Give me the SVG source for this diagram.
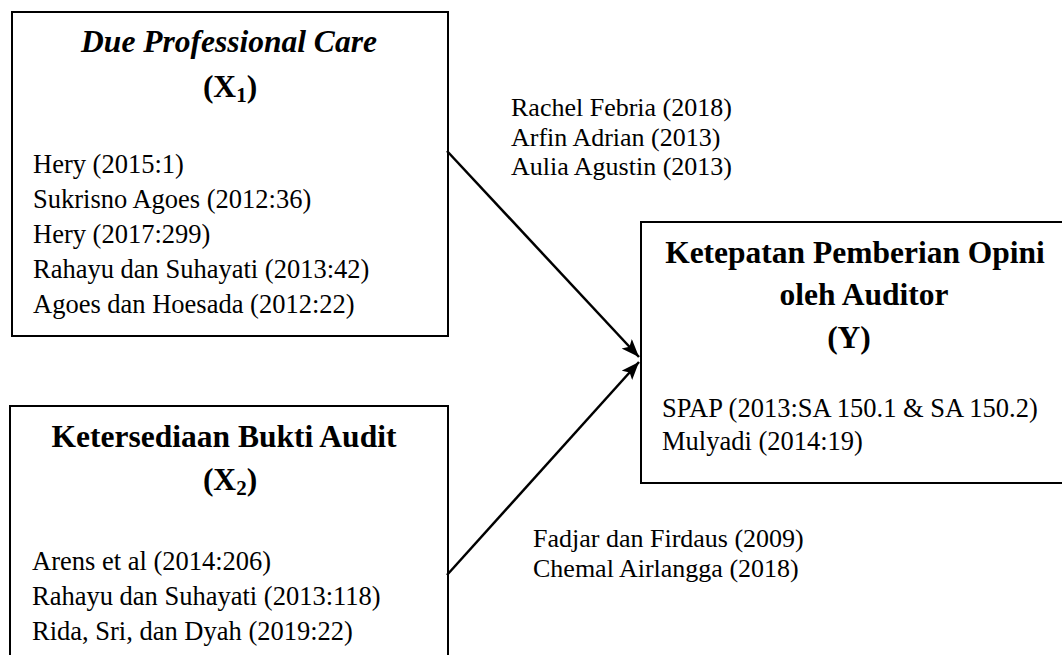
<svg xmlns="http://www.w3.org/2000/svg" width="1062" height="655" viewBox="0 0 1062 655">
<style>
.box{fill:#fff;stroke:#000;stroke-width:2}
.t{font-family:"Liberation Serif","Times New Roman",serif;fill:#000}
.h{font-size:31.5px;font-weight:bold;text-anchor:middle}
.b{font-size:26.5px}
.m{font-size:26px}
.sub{font-size:21px}
.conn{stroke:#000;stroke-width:2.5;fill:none}
</style>
<defs>
<marker id="ah" markerUnits="userSpaceOnUse" markerWidth="20" markerHeight="16" refX="18" refY="7" orient="auto">
<path d="M0,0 L18,7 L0,14 L4,7 Z" fill="#000"/>
</marker>
</defs>
<rect width="1062" height="655" fill="#fff"/>
<g id="node-x1">
<rect class="box" x="12" y="12" width="436" height="324"/>
<text class="t h" x="229" y="52" font-style="italic">Due Professional Care</text>
<text class="t h" x="230" y="97">(X<tspan class="sub" dy="5">1</tspan><tspan dy="-5">)</tspan></text>
<text class="t b" x="33" y="173">Hery (2015:1)</text>
<text class="t b" x="33" y="208">Sukrisno Agoes (2012:36)</text>
<text class="t b" x="33" y="243">Hery (2017:299)</text>
<text class="t b" x="33" y="278">Rahayu dan Suhayati (2013:42)</text>
<text class="t b" x="33" y="313">Agoes dan Hoesada (2012:22)</text>
</g>
<g id="node-x2">
<rect class="box" x="10" y="406" width="438" height="270"/>
<text class="t h" x="224" y="447">Ketersediaan Bukti Audit</text>
<text class="t h" x="230" y="490">(X<tspan class="sub" dy="5">2</tspan><tspan dy="-5">)</tspan></text>
<text class="t b" x="32" y="570">Arens et al (2014:206)</text>
<text class="t b" x="32" y="605">Rahayu dan Suhayati (2013:118)</text>
<text class="t b" x="32" y="640">Rida, Sri, dan Dyah (2019:22)</text>
</g>
<g id="node-y">
<rect class="box" x="641" y="222" width="450" height="261"/>
<text class="t h" x="855" y="263">Ketepatan Pemberian Opini</text>
<text class="t h" x="864" y="305">oleh Auditor</text>
<text class="t h" x="849" y="348">(Y)</text>
<text class="t b" x="662" y="417">SPAP (2013:SA 150.1 &amp; SA 150.2)</text>
<text class="t b" x="662" y="450">Mulyadi (2014:19)</text>
</g>
<g id="connectors">
<line class="conn" x1="447" y1="151" x2="639" y2="357" marker-end="url(#ah)"/>
<line class="conn" x1="447" y1="575" x2="639" y2="362" marker-end="url(#ah)"/>
</g>
<g id="labels">
<text class="t m" x="511" y="116">Rachel Febria (2018)</text>
<text class="t m" x="511" y="146">Arfin Adrian (2013)</text>
<text class="t m" x="511" y="175">Aulia Agustin (2013)</text>
<text class="t m" x="533" y="547">Fadjar dan Firdaus (2009)</text>
<text class="t m" x="533" y="577">Chemal Airlangga (2018)</text>
</g>
</svg>
